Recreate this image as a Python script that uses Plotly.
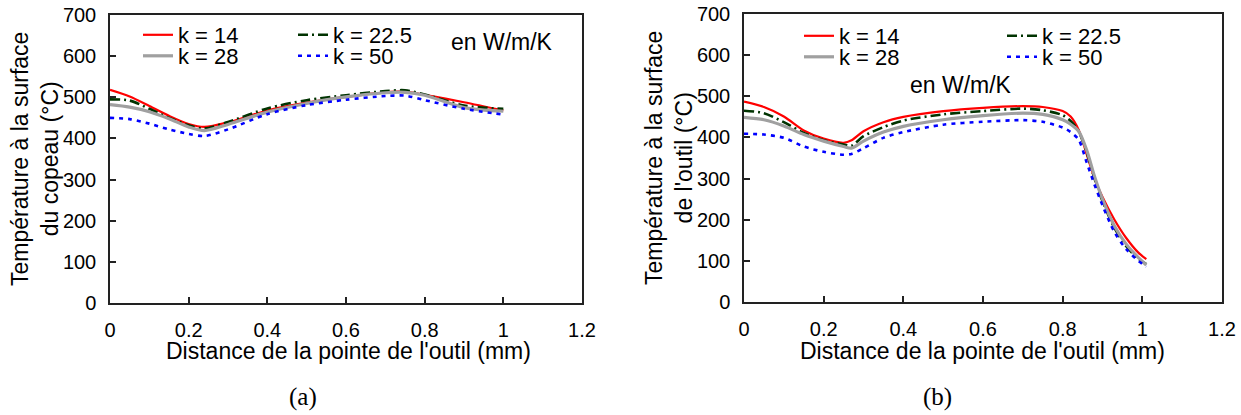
import plotly.graph_objects as go

W, H = 1241, 415

# ---------------- data ----------------
series_names = ["k = 14", "k = 22.5", "k = 28", "k = 50"]

x_a = [0, 0.05, 0.1, 0.15, 0.2, 0.24, 0.3, 0.4, 0.5, 0.6, 0.7, 0.75, 0.8, 0.9, 1.0]
a_k14 = [518, 502, 479, 455, 435, 428, 439, 468, 487, 501, 512, 514, 506, 488, 468]
a_k225 = [495, 492, 472, 450, 432, 424, 440, 473, 493, 505, 515, 517, 507, 480, 472]
a_k28 = [482, 476, 465, 448, 428, 419, 434, 464, 485, 501, 511, 512, 505, 475, 466]
a_k50 = [450, 447, 436, 422, 411, 406, 422, 459, 481, 494, 503, 504, 493, 472, 458]

x_b = [0, 0.05, 0.1, 0.15, 0.2, 0.25, 0.27, 0.3, 0.35, 0.4, 0.5, 0.6, 0.7, 0.75,
       0.8, 0.82, 0.84, 0.86, 0.88, 0.9, 0.93, 0.96, 0.99, 1.01]
b_k14 = [487, 474, 451, 417, 397, 387, 393, 415, 437, 450, 464, 472, 476, 474,
         464, 451, 419, 360, 300, 255, 200, 155, 120, 104]
b_k225 = [465, 459, 437, 411, 393, 383, 380, 403, 425, 441, 456, 464, 470, 466,
          454, 440, 415, 365, 300, 245, 180, 135, 105, 92]
b_k28 = [449, 443, 428, 407, 391, 378, 374, 391, 413, 427, 443, 453, 459, 456,
         443, 432, 415, 370, 305, 250, 185, 140, 108, 90]
b_k50 = [409, 407, 399, 378, 365, 358, 360, 374, 399, 413, 431, 438, 442, 438,
         424, 413, 395, 340, 285, 235, 170, 128, 100, 86]

x_ticks = [0, 0.2, 0.4, 0.6, 0.8, 1, 1.2]
y_ticks = [0, 100, 200, 300, 400, 500, 600, 700]

# ---------------- styles ----------------
styles = [
    dict(color="#ff0000", width=2.2, dash="solid"),
    dict(color="#003300", width=2.6, dash="10px,4px,2px,4px"),
    dict(color="#a0a0a0", width=3.2, dash="solid"),
    dict(color="#0000ff", width=2.6, dash="4px,5px"),
]

SANS = "Liberation Sans, Arial, sans-serif"
SERIF = "Liberation Serif, Times New Roman, serif"

def px_x(p):
    return p / W

def px_y(p):
    return 1 - p / H

fig = go.Figure()

# panel geometry in pixels
A = dict(l=110, r=582, t=15, b=303)
B = dict(l=744, r=1222, t=14, b=302)

# legend positions: (legend left x px, row center y px)
leg_pos_a = [(138, 35), (293, 35), (138, 56), (293, 56)]
leg_pos_b = [(799, 36), (1002, 36), (799, 57), (1002, 57)]

data_a = [a_k14, a_k225, a_k28, a_k50]
data_b = [b_k14, b_k225, b_k28, b_k50]

for i, (name, ys) in enumerate(zip(series_names, data_a)):
    lg = "legend" if i == 0 else f"legend{i + 1}"
    fig.add_trace(go.Scatter(
        x=x_a, y=ys, mode="lines", name=name,
        line=dict(shape="spline", smoothing=0.8, **styles[i]),
        xaxis="x", yaxis="y", legend=lg, showlegend=True))

for i, (name, ys) in enumerate(zip(series_names, data_b)):
    lg = f"legend{i + 5}"
    fig.add_trace(go.Scatter(
        x=x_b, y=ys, mode="lines", name=name,
        line=dict(shape="spline", smoothing=0.8, **styles[i]),
        xaxis="x2", yaxis="y2", legend=lg, showlegend=True))

def axis_common():
    return dict(
        showline=True, linecolor="#222222", linewidth=1.5, mirror=True,
        ticks="inside", ticklen=6, tickcolor="#222222", tickwidth=1.5,
        showgrid=False, zeroline=False, automargin=False,
        ticklabeloverflow="allow",
        tickfont=dict(family=SANS, size=20, color="#000000"),
    )

xa = axis_common()
xa.update(range=[0, 1.2], tickvals=x_ticks, ticktext=[str(v) for v in x_ticks],
          ticklabelstandoff=8)
ya = axis_common()
ya.update(range=[0, 700], tickvals=y_ticks, ticklabelstandoff=8)

layout = dict(
    template="none",
    width=W, height=H,
    margin=dict(l=0, r=0, t=0, b=0, autoexpand=False),
    paper_bgcolor="white", plot_bgcolor="white",
    xaxis=dict(xa, domain=[px_x(A["l"]), px_x(A["r"])], anchor="y"),
    yaxis=dict(ya, domain=[px_y(A["b"]), px_y(A["t"])], anchor="x"),
    xaxis2=dict(xa, domain=[px_x(B["l"]), px_x(B["r"])], anchor="y2"),
    yaxis2=dict(ya, domain=[px_y(B["b"]), px_y(B["t"])], anchor="x2"),
)

positions = leg_pos_a + leg_pos_b
for i, (lx, ly) in enumerate(positions):
    key = "legend" if i == 0 else f"legend{i + 1}"
    layout[key] = dict(
        x=px_x(lx), y=px_y(ly), xanchor="left", yanchor="middle",
        xref="paper", yref="paper",
        bgcolor="rgba(0,0,0,0)", borderwidth=0,
        font=dict(family=SANS, size=22, color="#000000"),
        itemwidth=30, tracegroupgap=0,
    )

fig.update_layout(**layout)

annotations = [
    dict(text="Température à la surface<br>du copeau (°C)", x=px_x(35), y=px_y(159)),
    dict(text="Température à la surface<br>de l'outil (°C)", x=px_x(669), y=px_y(158)),
]
for a in annotations:
    fig.add_annotation(xref="paper", yref="paper", xanchor="center", yanchor="middle",
                       textangle=-90, showarrow=False, text=a["text"], x=a["x"], y=a["y"],
                       font=dict(family=SANS, size=23, color="#000000"))

xt = "Distance de la pointe de l'outil (mm)"
for cx in [348, 983]:
    fig.add_annotation(xref="paper", yref="paper", xanchor="center", yanchor="middle",
                       showarrow=False, text=xt, x=px_x(cx), y=px_y(351),
                       font=dict(family=SANS, size=23, color="#000000"))

for txt, cx, cy in [("en W/m/K", 502, 42), ("en W/m/K", 961, 85)]:
    fig.add_annotation(xref="paper", yref="paper", xanchor="center", yanchor="middle",
                       showarrow=False, text=txt, x=px_x(cx), y=px_y(cy),
                       font=dict(family=SANS, size=23, color="#000000"))

for txt, cx in [("(a)", 303), ("(b)", 937)]:
    fig.add_annotation(xref="paper", yref="paper", xanchor="center", yanchor="middle",
                       showarrow=False, text=txt, x=px_x(cx), y=px_y(397),
                       font=dict(family=SERIF, size=25, color="#000000"))

# remove the browser's default 8px page margin so the figure sits at the window origin
fig.write_html("out.html",
               config={"displayModeBar": False},
               post_script="document.body.style.margin='0';document.body.style.overflow='hidden';")
